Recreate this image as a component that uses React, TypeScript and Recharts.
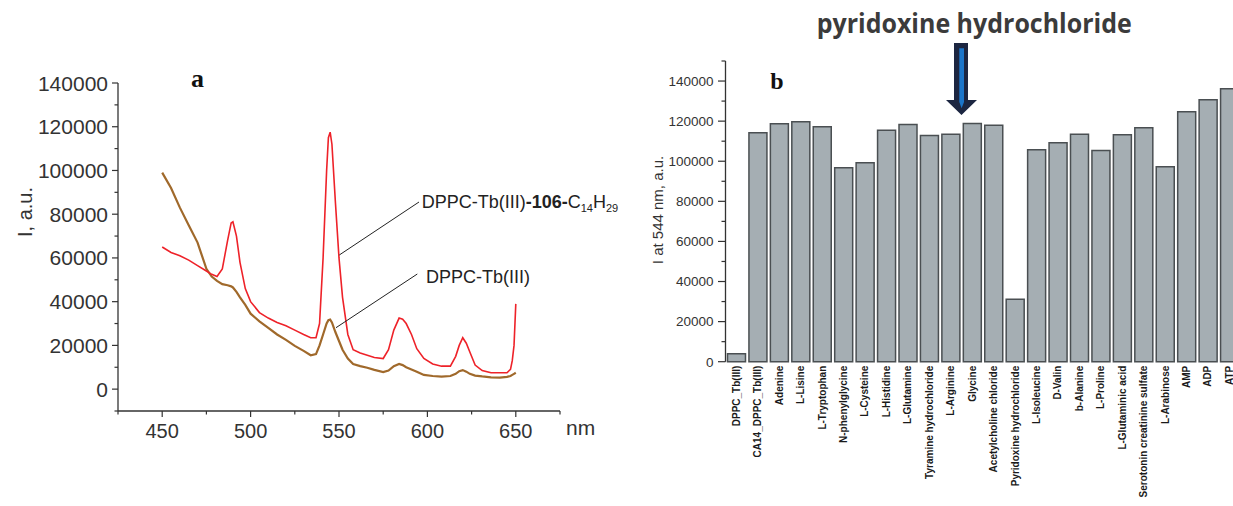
import React from 'react';
import { LineChart, Line, BarChart, Bar, XAxis, YAxis } from 'recharts';

// panel a: emission spectra
const wavelengths = [
  450, 455, 460, 465, 470, 475, 478, 481, 484, 487, 489, 490, 492, 494, 497, 500, 505, 510, 515, 520,
  525, 530, 534, 537, 539, 541, 543, 544, 545, 546, 548, 550, 552, 555, 558, 562, 566, 570, 575, 578,
  581, 584, 586, 588, 591, 594, 598, 603, 608, 613, 616, 618, 620, 622, 624, 627, 631, 636, 641, 645,
  647, 648, 649, 650,
];
const tbLigand = [
  65000, 62500, 61000, 59000, 56500, 54000, 52500, 51500, 55000, 68000, 76000, 76500, 70000, 58000, 46000, 40000, 35000, 32500, 30500, 29000,
  27000, 25000, 23500, 23500, 30000, 60000, 100000, 115000, 117500, 112000, 85000, 60000, 42000, 25000, 18000, 16500, 15500, 14500, 14000, 18000,
  27000, 32500, 32000, 30000, 25000, 18500, 14000, 11500, 10500, 10500, 15000, 20000, 23500, 21000, 17000, 11000, 8500, 7500, 7500, 7500,
  9000, 13000, 20000, 39000,
];
const tbOnly = [
  99000, 92000, 83000, 75000, 67000, 55000, 51500, 49500, 48000, 47500, 47000, 46500, 44500, 42000, 38500, 34500, 31000, 28000, 25000, 22500,
  19800, 17500, 15500, 16000, 20000, 25000, 30000, 31500, 31800, 30500, 26000, 22000, 18000, 14000, 11500, 10500, 9800, 8800, 7800, 8500,
  10500, 11500, 11000, 10000, 9000, 8000, 6500, 6000, 5700, 6000, 7000, 8200, 8700, 8000, 7000, 6200, 5800, 5400, 5300, 5600,
  6000, 6500, 7000, 7500,
];
const xTicksA = [425, 450, 475, 500, 525, 550, 575, 600, 625, 650, 675];
const yTicksA = [-10000, 0, 10000, 20000, 30000, 40000, 50000, 60000, 70000, 80000, 90000, 100000, 110000, 120000, 130000, 140000];

// panel b: intensity at 544 nm
const analytes = [
  'DPPC_Tb(III)', 'CA14_DPPC_Tb(III)', 'Adenine', 'L-Lisine', 'L-Tryptophan', 'N-phenylglycine', 'L-Cysteine', 'L-Histidine',
  'L-Glutamine', 'Tyramine hydrochloride', 'L-Arginine', 'Glycine', 'Acetylcholine chloride', 'Pyridoxine hydrochloride',
  'L-Isoleucine', 'D-Valin', 'b-Alanine', 'L-Proline', 'L-Glutaminic acid', 'Serotonin creatinine sulfate', 'L-Arabinose',
  'AMP', 'ADP', 'ATP',
];
const intensity544 = [
  4000, 114200, 118700, 119700, 117200, 96700, 99200, 115500, 118300, 112800, 113500, 118800, 118000, 31200,
  105700, 109200, 113500, 105300, 113200, 116700, 97300, 124700, 130700, 136200,
];
const yTicksB = [0, 10000, 20000, 30000, 40000, 50000, 60000, 70000, 80000, 90000, 100000, 110000, 120000, 130000, 140000, 150000];

const spectra = wavelengths.map((nm, i) => ({ nm, ligand: tbLigand[i], tb: tbOnly[i] }));
const bars = analytes.map((name, i) => ({ name, value: intensity544[i] }));

const AXIS = '#333';
const FONT = '"Liberation Sans", Arial, sans-serif';

const XTickA = (props: any) => {
  const { x, y, payload } = props;
  const v = payload.value;
  const major = v % 50 === 0;
  return (
    <g>
      <line x1={x} y1={y} x2={x} y2={y + (major ? 6 : 3.5)} stroke={AXIS} strokeWidth={1.2} />
      {major && (
        <text x={x} y={y + 27} textAnchor="middle" fontSize={20} fill={AXIS} fontFamily={FONT}>{v}</text>
      )}
    </g>
  );
};

const YTickA = (props: any) => {
  const { x, y, payload } = props;
  const v = payload.value;
  const major = v % 20000 === 0 && v >= 0;
  return (
    <g>
      <line x1={x} y1={y} x2={x - (major ? 6 : 3.5)} y2={y} stroke={AXIS} strokeWidth={1.2} />
      {major && (
        <text x={x - 10} y={y} dy="0.36em" textAnchor="end" fontSize={21} fill={AXIS} fontFamily={FONT}>{v}</text>
      )}
    </g>
  );
};

const YTickB = (props: any) => {
  const { x, y, payload } = props;
  const v = payload.value;
  const major = v % 20000 === 0 && v <= 140000;
  return (
    <g>
      <line x1={x} y1={y} x2={x - (major ? 7.5 : 4)} y2={y} stroke={AXIS} strokeWidth={1.2} />
      {major && (
        <text x={x - 12} y={y} dy="0.36em" textAnchor="end" fontSize={13.5} fill={AXIS} fontFamily={FONT}>{v}</text>
      )}
    </g>
  );
};

const XTickB = (props: any) => {
  const { x, y, payload } = props;
  return (
    <text
      x={x}
      y={y + 4}
      dy="0.36em"
      transform={`rotate(-90 ${x} ${y + 4})`}
      textAnchor="end"
      fontSize={10}
      fontWeight="bold"
      fill="#1a1a1a"
      fontFamily={FONT}
    >
      {payload.value}
    </text>
  );
};

export default function App() {
  return (
    <div
      style={{
        position: 'fixed',
        left: 0,
        top: 0,
        width: 1233,
        height: 506,
        overflow: 'hidden',
        background: '#fff',
        fontFamily: FONT,
      }}
    >
      <div style={{ position: 'absolute', left: 0, top: 0 }}>
        <LineChart width={640} height={470} data={spectra} margin={{ top: 83, right: 80, left: 18, bottom: 19 }}>
          <XAxis
            dataKey="nm"
            type="number"
            domain={[425, 675]}
            ticks={xTicksA}
            interval={0}
            tickSize={0}
            tickMargin={0}
            tickLine={false}
            axisLine={{ stroke: AXIS, strokeWidth: 1.3 }}
            tick={(p: any) => <XTickA {...p} />}
            height={40}
          />
          <YAxis
            type="number"
            domain={[-10000, 140000]}
            ticks={yTicksA}
            interval={0}
            tickSize={0}
            tickMargin={0}
            tickLine={false}
            axisLine={{ stroke: AXIS, strokeWidth: 1.3 }}
            tick={(p: any) => <YTickA {...p} />}
            width={100}
          />
          <Line type="linear" dataKey="tb" stroke="#a0692b" strokeWidth={2.2} dot={false} isAnimationActive={false} />
          <Line type="linear" dataKey="ligand" stroke="#ee2229" strokeWidth={1.6} dot={false} isAnimationActive={false} />
        </LineChart>
      </div>

      <div style={{ position: 'absolute', left: 640, top: 0 }}>
        <BarChart width={610} height={506} data={bars} margin={{ top: 61, right: 10, left: 25.5, bottom: 4.3 }}>
          <XAxis
            dataKey="name"
            interval={0}
            tickSize={0}
            tickMargin={0}
            tickLine={false}
            axisLine={false}
            tick={(p: any) => <XTickB {...p} />}
            height={140}
          />
          <YAxis
            type="number"
            domain={[0, 150000]}
            ticks={yTicksB}
            interval={0}
            tickSize={0}
            tickMargin={0}
            tickLine={false}
            axisLine={{ stroke: AXIS, strokeWidth: 1.3 }}
            tick={(p: any) => <YTickB {...p} />}
            width={60}
          />
          <Bar dataKey="value" fill="#a5aeb3" stroke="#4a4f52" strokeWidth={1.5} barSize={18} isAnimationActive={false} />
        </BarChart>
      </div>

      <svg width={1233} height={506} style={{ position: 'absolute', left: 0, top: 0, pointerEvents: 'none' }}>
        {/* panel a labels */}
        <text x={197.5} y={86.7} textAnchor="middle" fontSize={26} fontWeight="bold" fontFamily='"Liberation Serif", "Times New Roman", serif' fill="#111">a</text>
        <text x={32} y={212} transform="rotate(-90 32 212)" textAnchor="middle" fontSize={20} fill={AXIS} fontFamily={FONT}>I, a.u.</text>
        <text x={566} y={435} fontSize={21} fill={AXIS} fontFamily={FONT}>nm</text>
        <line x1={419} y1={202} x2={339.3} y2={255} stroke="#222" strokeWidth={1} />
        <line x1={417.3} y1={274} x2={336} y2={327.7} stroke="#222" strokeWidth={1} />
        <text x={421.7} y={208.3} fontSize={18} fill="#222" fontFamily={FONT}>
          DPPC-Tb(III)<tspan fontWeight="bold">-106-</tspan>C<tspan fontSize={11} dy={4}>14</tspan>
          <tspan dy={-4}>H</tspan><tspan fontSize={11} dy={4}>29</tspan>
        </text>
        <text x={426} y={283.3} fontSize={18} fill="#222" fontFamily={FONT}>DPPC-Tb(III)</text>

        {/* panel b labels */}
        <text x={777} y={89.3} textAnchor="middle" fontSize={24} fontWeight="bold" fontFamily='"Liberation Serif", "Times New Roman", serif' fill="#111">b</text>
        <text x={663} y={210} transform="rotate(-90 663 210)" textAnchor="middle" fontSize={15} fill={AXIS} fontFamily={FONT}>I at 544 nm, a.u.</text>
        <text x={816.7} y={33.3} textLength={315} lengthAdjust="spacingAndGlyphs" fontSize={26} fontWeight="bold" fill="#3b3b3b" fontFamily='"Open Sans", Lato, sans-serif'>pyridoxine hydrochloride</text>
        <polygon points="954,43 968,43 968,100 977,100 961.5,115 946,100 954,100" fill="#1c2641" />
        <polygon points="959.3,48.3 964,48.3 964,102 961.6,108.3 959.3,102" fill="#1b75c9" />
      </svg>
    </div>
  );
}
